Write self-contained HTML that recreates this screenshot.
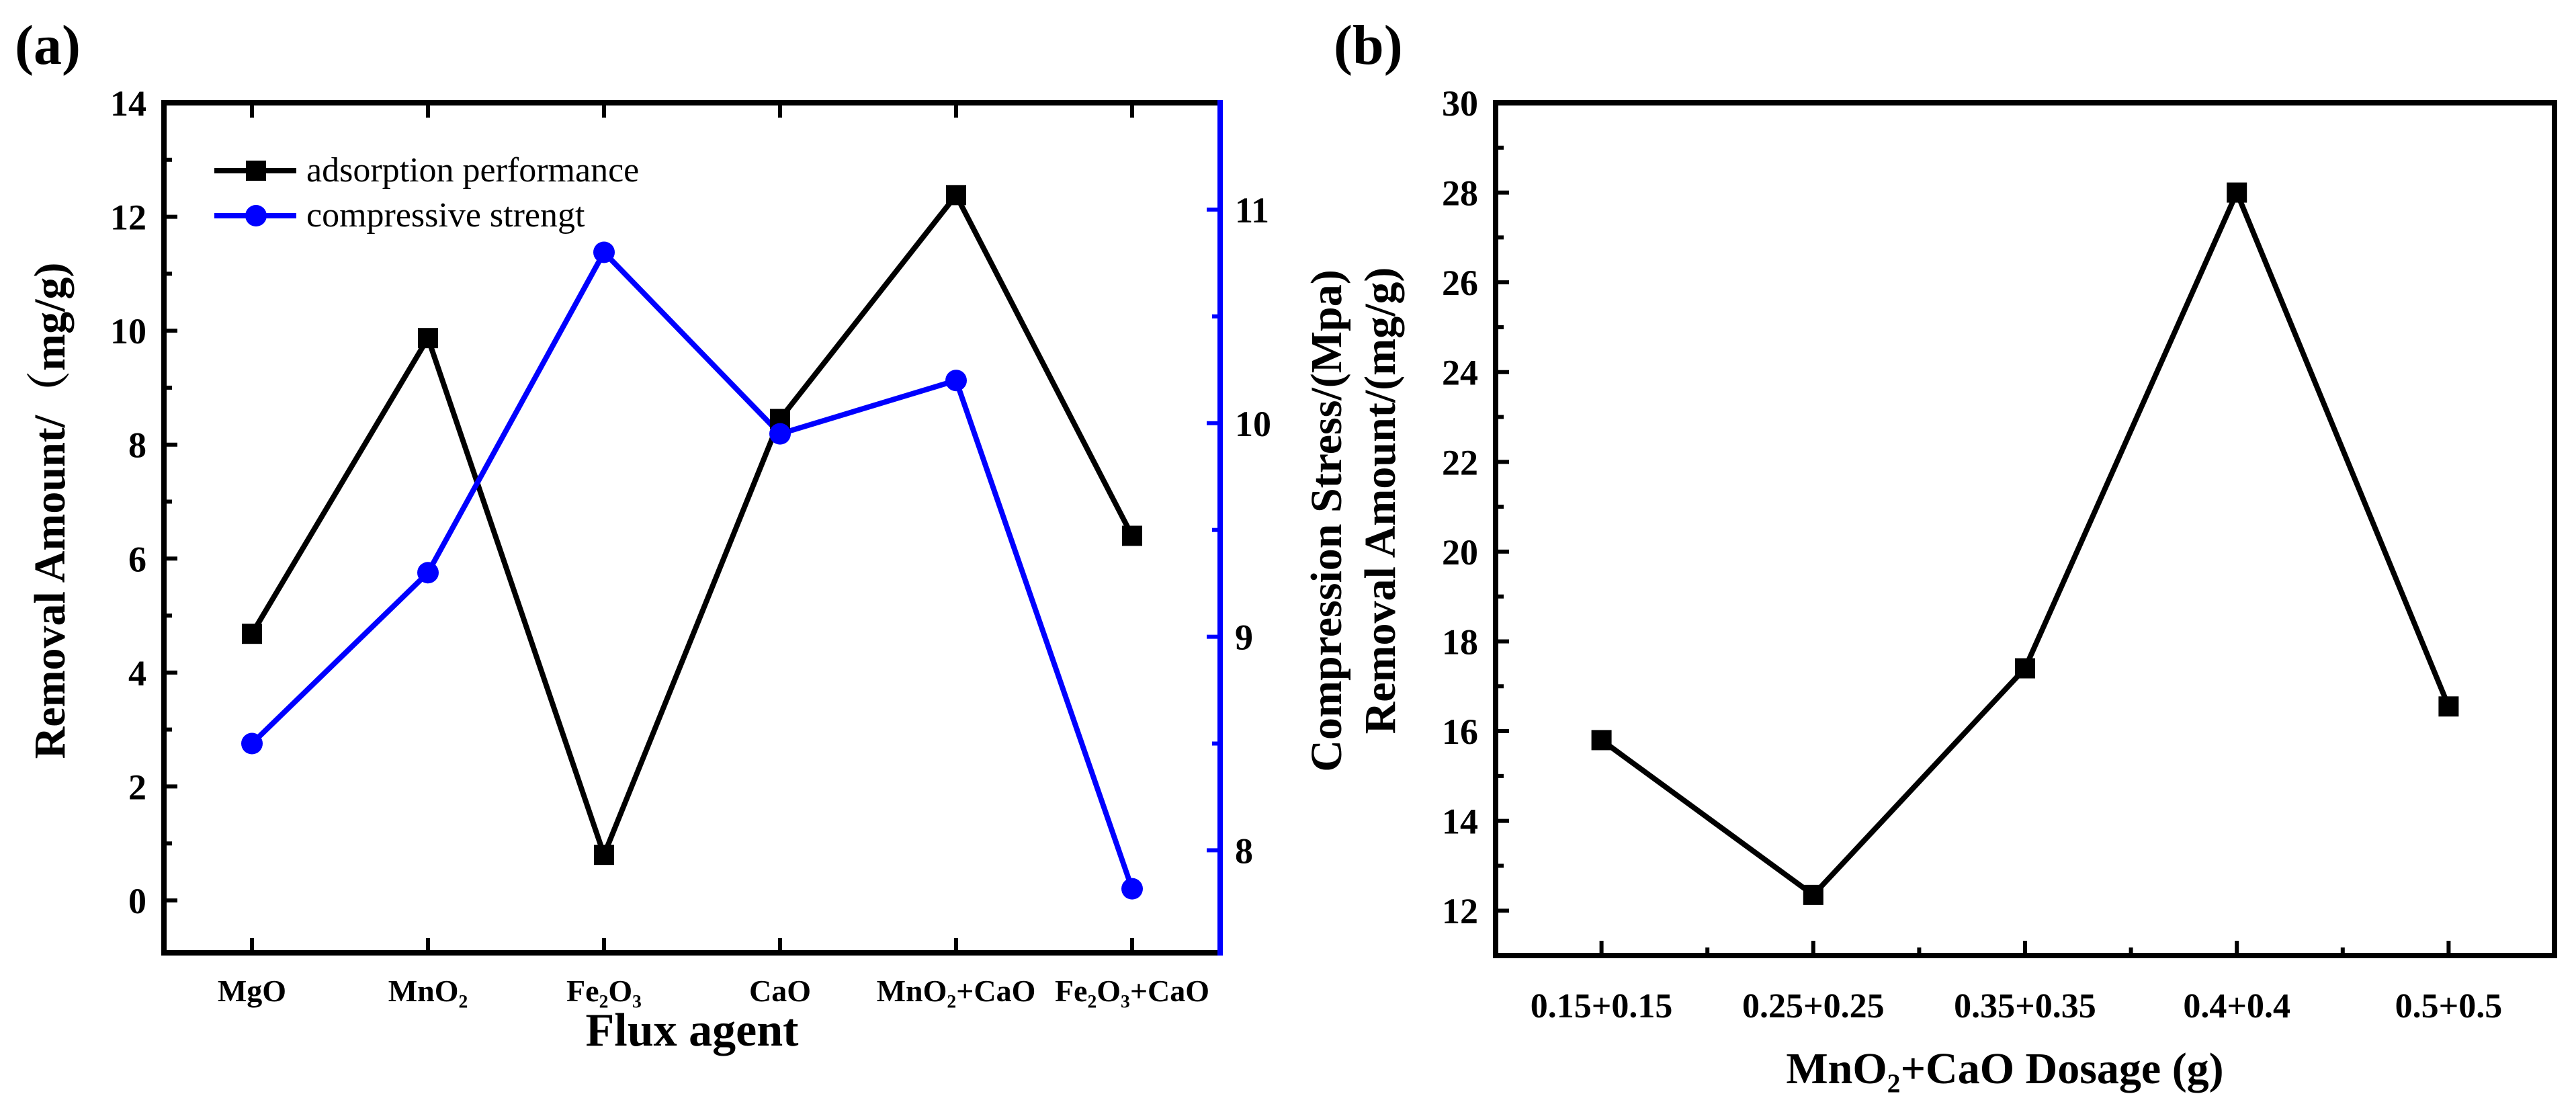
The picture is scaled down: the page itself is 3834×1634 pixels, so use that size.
<!DOCTYPE html>
<html><head><meta charset="utf-8"><style>
html,body{margin:0;padding:0;background:#fff;}
svg{display:block;font-family:"Liberation Serif","Noto Serif CJK SC",serif;}
</style></head><body>
<svg id="fig" width="3834" height="1634" viewBox="0 0 3834 1634" xmlns="http://www.w3.org/2000/svg">
<rect width="3834" height="1634" fill="#fff"/>
<text x="22" y="95" font-size="84" font-weight="bold">(a)</text>
<text x="1985" y="95" font-size="84" font-weight="bold">(b)</text>
<g id="ga"></g>
<g id="gb"></g>
</svg>
<script>
const catsA = ["MgO","MnO₂","Fe₂O₃","CaO","MnO₂+CaO","Fe₂O₃+CaO"];
const adsorptionA = [4.68, 9.87, 0.8, 8.45, 12.38, 6.4];
const strengthA = [8.5, 9.3, 10.8, 9.95, 10.2, 7.82];
const leftTicksA = [0,2,4,6,8,10,12,14];
const rightTicksA = [8,9,10,11];
const catsB = ["0.15+0.15","0.25+0.25","0.35+0.35","0.4+0.4","0.5+0.5"];
const removalB = [15.8, 12.35, 17.4, 28.0, 16.55];
const ticksB = [12,14,16,18,20,22,24,26,28,30];

const NS="http://www.w3.org/2000/svg";
function mk(parent,tag,attrs,text){const e=document.createElementNS(NS,tag);for(const k in attrs)e.setAttribute(k,attrs[k]);if(text!==undefined)e.textContent=text;parent.appendChild(e);return e;}

// ---------- Chart A ----------
const ga=document.getElementById('ga');
const A={x0:244,x1:1816,y0:153,y1:1418};
const ayMin=-0.92, ayMax=14, ryMin=7.52, ryMax=11.5;
const axA=i=>A.x0+(i+0.5)*(A.x1-A.x0)/catsA.length;
const ayA=v=>A.y1-(v-ayMin)/(ayMax-ayMin)*(A.y1-A.y0);
const ryA=v=>A.y1-(v-ryMin)/(ryMax-ryMin)*(A.y1-A.y0);

// left ticks
for(let v=-0;v<=14;v++){
  const major=v%2===0;const y=ayA(v);
  const t=mk(ga,'line',{x1:A.x0,x2:A.x0+(major?20:12),y1:y,y2:y,stroke:'#000','stroke-width':6});
  
  
}
leftTicksA.forEach(v=>{
  const t=mk(ga,'text',{x:A.x0-26,y:ayA(v)+19,'font-size':54,'font-weight':'bold','text-anchor':'end'},String(v));
  
  
});
// right ticks
for(let v=7.5;v<=11.5;v+=0.5){
  if(v<ryMin||v>ryMax)continue;
  const major=Number.isInteger(v);const y=ryA(v);
  const t=mk(ga,'line',{x1:A.x1,x2:A.x1-(major?20:12),y1:y,y2:y,stroke:'#0000ff','stroke-width':6});
  
  
}
rightTicksA.forEach(v=>{
  const t=mk(ga,'text',{x:A.x1+22,y:ryA(v)+19,'font-size':54,'font-weight':'bold','text-anchor':'start'},String(v));
  
  
});
// x ticks
catsA.forEach((c,i)=>{
  const x=axA(i);
  const t=mk(ga,'line',{x1:x,x2:x,y1:A.y1,y2:A.y1-22,stroke:'#000','stroke-width':6});
  
  
  const t2=mk(ga,'line',{x1:x,x2:x,y1:A.y0,y2:A.y0+22,stroke:'#000','stroke-width':6});
  
  
  const l=mk(ga,'text',{x:x,y:A.y1+72,'font-size':46,'font-weight':'bold','text-anchor':'middle'},c);
  
  
});
// frame
const fa=mk(ga,'path',{d:`M${A.x1},${A.y0}H${A.x0}V${A.y1}H${A.x1}`,fill:'none',stroke:'#000','stroke-width':8});


const ra=mk(ga,'line',{x1:A.x1,x2:A.x1,y1:A.y0-4,y2:A.y1+4,stroke:'#0000ff','stroke-width':8});


// series black
const pb=mk(ga,'polyline',{points:adsorptionA.map((v,i)=>axA(i)+','+ayA(v)).join(' '),fill:'none',stroke:'#000','stroke-width':8,'stroke-linejoin':'miter'});


// series blue
const pbl=mk(ga,'polyline',{points:strengthA.map((v,i)=>axA(i)+','+ryA(v)).join(' '),fill:'none',stroke:'#0000ff','stroke-width':8});


adsorptionA.forEach((v,i)=>{
  const r=mk(ga,'rect',{x:axA(i)-15,y:ayA(v)-15,width:30,height:30,fill:'#000'});
  
  
});
strengthA.forEach((v,i)=>{
  const c=mk(ga,'circle',{cx:axA(i),cy:ryA(v),r:16,fill:'#0000ff'});
  
  
});
// legend
const lg=mk(ga,'g',{});


mk(lg,'line',{x1:319,x2:441,y1:254,y2:254,stroke:'#000','stroke-width':8});
mk(lg,'rect',{x:366,y:239,width:30,height:30,fill:'#000'});
const le1=mk(lg,'text',{x:456,y:270,'font-size':52},'adsorption performance');


mk(lg,'line',{x1:319,x2:441,y1:321,y2:321,stroke:'#0000ff','stroke-width':8});
mk(lg,'circle',{cx:381,cy:321,r:16,fill:'#0000ff'});
const le2=mk(lg,'text',{x:456,y:337,'font-size':52},'compressive strengt');


// titles
const xt=mk(ga,'text',{x:1030,y:1556,'font-size':70,'font-weight':'bold','text-anchor':'middle'},'Flux agent');


const yt=mk(ga,'text',{x:0,y:0,'font-size':66,'font-weight':'bold','text-anchor':'middle',transform:'translate(96,760) rotate(-90)'},'Removal Amount/（mg/g)');


const rt=mk(ga,'text',{x:0,y:0,'font-size':66,'font-weight':'bold','text-anchor':'middle',transform:'translate(1996,775) rotate(-90)'},'Compression Stress/(Mpa)');



// ---------- Chart B ----------
const gb=document.getElementById('gb');
const B={x0:2226,x1:3802,y0:153,y1:1422};
const byMin=11, byMax=30;
const bx=i=>B.x0+(i+0.5)*(B.x1-B.x0)/catsB.length;
const by=v=>B.y1-(v-byMin)/(byMax-byMin)*(B.y1-B.y0);
for(let v=11;v<=30;v++){
  const major=v%2===0;const y=by(v);
  const t=mk(gb,'line',{x1:B.x0,x2:B.x0+(major?20:12),y1:y,y2:y,stroke:'#000','stroke-width':6});
  
  
}
ticksB.forEach(v=>{
  const t=mk(gb,'text',{x:B.x0-26,y:by(v)+19,'font-size':54,'font-weight':'bold','text-anchor':'end'},String(v));
  
  
});
for(let k=0;k<=catsB.length*2;k++){
  const x=B.x0+k*(B.x1-B.x0)/(catsB.length*2);
  if(k===0||k===catsB.length*2)continue;
  const major=k%2===1;
  const t=mk(gb,'line',{x1:x,x2:x,y1:B.y1,y2:B.y1-(major?22:12),stroke:'#000','stroke-width':6});
  
  
}
catsB.forEach((c,i)=>{
  const l=mk(gb,'text',{x:bx(i),y:B.y1+92,'font-size':52,'font-weight':'bold','text-anchor':'middle'},c);
  
  
});
const fb=mk(gb,'rect',{x:B.x0,y:B.y0,width:B.x1-B.x0,height:B.y1-B.y0,fill:'none',stroke:'#000','stroke-width':8});


const lb=mk(gb,'polyline',{points:removalB.map((v,i)=>bx(i)+','+by(v)).join(' '),fill:'none',stroke:'#000','stroke-width':8});


removalB.forEach((v,i)=>{
  const r=mk(gb,'rect',{x:bx(i)-15,y:by(v)-15,width:30,height:30,fill:'#000'});
  
  
});
const xtb=mk(gb,'text',{x:2984,y:1612,'font-size':66,'font-weight':'bold','text-anchor':'middle'},'MnO₂+CaO Dosage (g)');


const ytb=mk(gb,'text',{x:0,y:0,'font-size':66,'font-weight':'bold','text-anchor':'middle',transform:'translate(2076,745) rotate(-90)'},'Removal Amount/(mg/g)');


</script>
</body></html>
